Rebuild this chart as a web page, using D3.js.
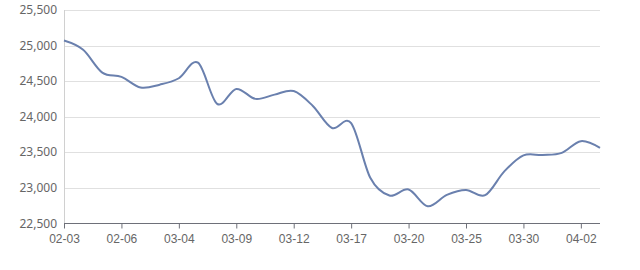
<!DOCTYPE html>
<html><head><meta charset="utf-8">
<script src="https://cdn.jsdelivr.net/npm/d3@7/dist/d3.min.js"></script>
<style>body{margin:0;background:#fff;}svg{display:block;font-family:"Microsoft YaHei","Noto Sans","DejaVu Sans",sans-serif;}</style>
</head><body>
<svg id="c" width="640" height="270"></svg>
<script>
const dates = ["02-03","02-04","02-05","02-06","02-09","03-03","03-04","03-05","03-06","03-09","03-10","03-11","03-12","03-13","03-16","03-17","03-18","03-19","03-20","03-23","03-24","03-25","03-26","03-27","03-30","03-31","04-01","04-02","04-03"];
const prices = [25070,24940,24620,24560,24410,24450,24540,24760,24180,24390,24250,24310,24360,24150,23840,23910,23140,22890,22975,22740,22900,22970,22895,23230,23455,23460,23490,23655,23560];
const yTicks = [22500,23000,23500,24000,24500,25000,25500];
const labelEvery = 3;

const svg = d3.select("#c");
const m = {l:64, r:600, t:10, b:223.3};
const x = d3.scalePoint().domain(dates).range([m.l, m.r]);
const y = d3.scaleLinear().domain([22500,25500]).range([m.b, m.t]);

// grid
svg.append("g").selectAll("line").data(yTicks.slice(1)).join("line")
  .attr("x1", m.l).attr("x2", m.r)
  .attr("y1", d=>Math.round(y(d))+0.5).attr("y2", d=>Math.round(y(d))+0.5)
  .attr("stroke","#e0e0e0").attr("stroke-width",1);

// y axis line
svg.append("line").attr("x1",m.l+0.5).attr("x2",m.l+0.5).attr("y1",m.t).attr("y2",m.b)
  .attr("stroke","#d0d0d0");

// y labels
svg.append("g").selectAll("text").data(yTicks).join("text")
  .attr("x", 57).attr("y", d=>y(d)).attr("dy","0.35em")
  .attr("text-anchor","end").attr("font-size",12).attr("fill","#666")
  .text(d=>d3.format(",")(d));

// x axis
const xa = svg.append("g").attr("transform",`translate(0,${Math.round(m.b)+0.5})`)
  .call(d3.axisBottom(x).tickValues(dates.filter((d,i)=>i%labelEvery===0)).tickSize(5).tickPadding(6).tickSizeOuter(0));
xa.select(".domain").attr("stroke","#6e7079").attr("d",`M${m.l},0H${m.r}`);
xa.selectAll(".tick line").attr("stroke","#6e7079");
xa.selectAll(".tick text").attr("fill","#666").attr("font-size",12).attr("font-family",null);

// line
const line = d3.line().x((d,i)=>x(dates[i])).y(d=>y(d)).curve(d3.curveCardinal.tension(0));
svg.append("path").datum(prices).attr("d",line)
  .attr("fill","none").attr("stroke","#6a80ae").attr("stroke-width",2);
</script>
</body></html>
